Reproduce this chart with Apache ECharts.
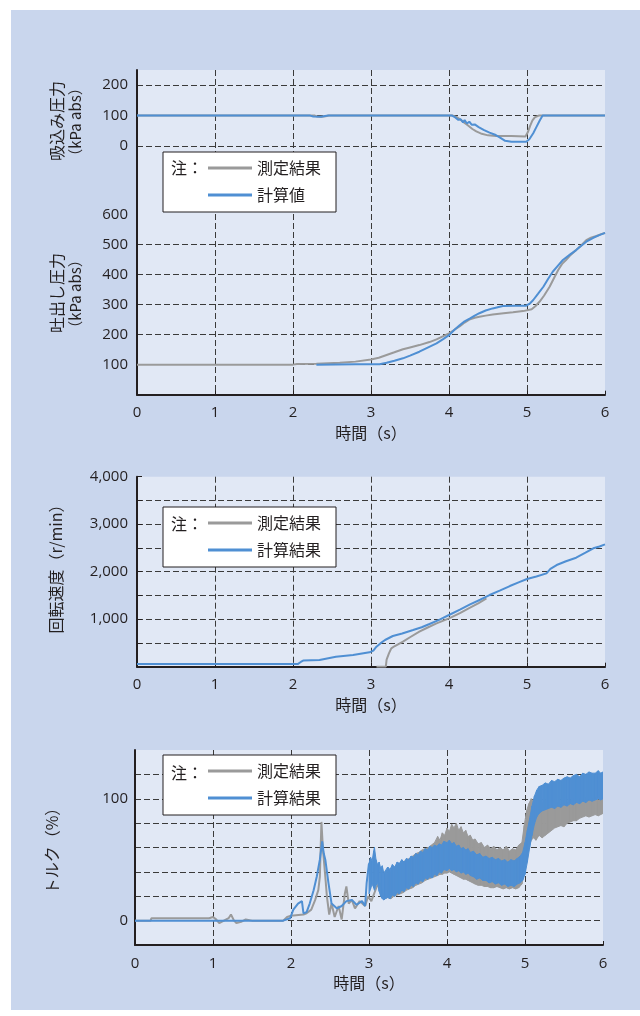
<!DOCTYPE html>
<html>
<head>
<meta charset="utf-8">
<script src="https://cdn.jsdelivr.net/npm/echarts@6/dist/echarts.min.js"></script>
<style>
  html, body { margin: 0; padding: 0; background: #ffffff; }
  #panel { position: absolute; left: 11px; top: 10px; width: 629px; height: 1000px; background: #c9d6ed; }
  #chart { position: absolute; left: 0; top: 0; width: 640px; height: 1016px; }
</style>
</head>
<body>
<div id="panel"></div>
<div id="chart"></div>
<script>
// ---- data: [time (s), value] ----
const suctionMeasured = [[0,100],[2.28,100],[2.31,97],[2.36,96],[2.42,98],[2.46,100],[4.05,100],[4.1,95],[4.15,86],[4.2,76],[4.24,68],[4.3,56],[4.35,48],[4.42,40],[4.5,35],[4.6,33],[4.8,33],[4.98,31],[5.01,45],[5.04,66],[5.07,84],[5.1,94],[5.15,100],[6,100]];
const suctionCalc = [[0,100],[2.22,100],[2.26,97],[2.36,96],[2.41,99],[2.45,100],[4.04,100],[4.08,94],[4.12,86],[4.15,88],[4.18,78],[4.2,85],[4.23,74],[4.26,80],[4.29,70],[4.33,71],[4.38,62],[4.45,52],[4.52,44],[4.6,36],[4.66,27],[4.72,17],[4.8,14],[4.99,14],[5.03,22],[5.08,42],[5.12,62],[5.16,82],[5.2,100],[6,100]];

const dischargeMeasured = [[0,100],[2.0,100],[2.05,102],[2.3,103],[2.6,106],[2.8,110],[3.0,117],[3.1,123],[3.2,132],[3.3,141],[3.41,151],[3.5,157],[3.62,165],[3.75,175],[3.84,184],[3.92,194],[4.0,204],[4.07,216],[4.14,228],[4.2,240],[4.27,251],[4.33,256],[4.39,259],[4.47,263],[4.56,267],[4.7,271],[4.82,274],[4.95,278],[5.06,284],[5.11,295],[5.16,309],[5.22,330],[5.29,359],[5.35,390],[5.4,415],[5.45,435],[5.5,448],[5.56,465],[5.63,481],[5.7,498],[5.76,514],[5.82,522],[5.89,528],[5.95,534],[6.0,538]];
const dischargeCalc = [[2.3,100],[2.8,101],[3.11,101],[3.2,106],[3.3,113],[3.41,121],[3.5,130],[3.62,143],[3.72,156],[3.84,171],[3.92,184],[4.0,198],[4.07,216],[4.14,232],[4.2,244],[4.27,254],[4.33,263],[4.39,271],[4.47,280],[4.56,287],[4.69,295],[4.85,296],[4.99,296],[5.04,304],[5.08,315],[5.14,335],[5.21,359],[5.27,385],[5.33,409],[5.4,430],[5.46,448],[5.55,466],[5.63,481],[5.7,496],[5.76,509],[5.85,522],[5.92,530],[6.0,538]];

const speedMeasured = [[3.07,0],[3.19,0],[3.2,150],[3.23,280],[3.26,386],[3.3,430],[3.41,527],[3.5,620],[3.62,737],[3.72,820],[3.84,913],[4.0,1018],[4.14,1130],[4.27,1242],[4.38,1340],[4.48,1439]];
const speedCalc = [[0,55],[2.06,55],[2.1,100],[2.13,130],[2.34,140],[2.55,211],[2.77,246],[2.98,302],[3.03,340],[3.07,421],[3.12,490],[3.18,562],[3.28,646],[3.4,700],[3.54,772],[3.65,830],[3.75,899],[3.88,990],[4.0,1088],[4.14,1200],[4.27,1313],[4.4,1410],[4.52,1509],[4.65,1600],[4.78,1698],[4.9,1780],[5.0,1846],[5.12,1900],[5.25,1965],[5.3,2060],[5.38,2140],[5.5,2220],[5.63,2295],[5.75,2400],[5.85,2492],[5.93,2530],[6.0,2576]];

// torque: single trace, then an oscillating band given as [time, low, high]
const torqueMeasuredTrace = [[0,0],[0.2,0],[0.21,2],[0.95,2],[1.0,3],[1.04,1],[1.08,-2],[1.14,0],[1.2,2],[1.23,5],[1.27,0],[1.3,-2],[1.36,-1],[1.42,1],[1.5,0],[1.9,0],[1.95,3],[2.0,4],[2.16,5],[2.2,6],[2.26,9],[2.31,17],[2.35,25],[2.37,36],[2.39,81],[2.41,58],[2.44,36],[2.46,20],[2.49,5],[2.52,14],[2.56,3],[2.61,12],[2.65,1],[2.69,22],[2.71,28],[2.74,14],[2.78,17],[2.82,10],[2.88,16],[2.95,12],[2.99,20],[3.03,16],[3.1,28],[3.14,31],[3.18,20],[3.2,18]];
const torqueMeasuredBand = [[3.20,18,32],[3.24,19,38],[3.28,18,40],[3.32,20,43],[3.36,21,45],[3.40,22,46],[3.44,23,48],[3.48,25,50],[3.52,26,51],[3.56,27,53],[3.60,29,55],[3.64,30,56],[3.68,31,58],[3.72,33,59],[3.76,34,60],[3.80,35,62],[3.84,36,64],[3.88,37,69],[3.91,38,66],[3.94,38,72],[3.97,39,70],[4.00,39,76],[4.03,40,73],[4.06,39,79],[4.09,38,76],[4.12,37,80],[4.15,36,74],[4.18,35,77],[4.21,34,72],[4.24,34,74],[4.27,33,69],[4.30,32,70],[4.33,31,66],[4.36,30,67],[4.40,29,63],[4.44,29,64],[4.48,28,60],[4.52,28,62],[4.56,27,59],[4.60,27,61],[4.64,28,58],[4.68,27,60],[4.72,26,58],[4.76,27,61],[4.80,26,57],[4.84,27,59],[4.88,26,58],[4.92,27,62],[4.96,30,64],[4.99,40,78],[5.02,50,90],[5.05,60,96],[5.08,66,100],[5.11,68,98],[5.14,66,101],[5.18,70,97],[5.22,68,96],[5.26,70,99],[5.30,72,95],[5.34,74,98],[5.38,76,94],[5.42,77,97],[5.46,78,95],[5.50,77,99],[5.54,80,97],[5.58,81,98],[5.62,82,101],[5.66,82,98],[5.70,84,100],[5.74,85,99],[5.78,86,101],[5.82,85,99],[5.86,86,100],[5.90,87,101],[5.94,86,99],[5.97,87,100],[6.00,88,100]];
const torqueCalcTrace = [[0,0],[1.9,0],[1.99,2],[2.03,9],[2.09,14],[2.14,16],[2.16,6],[2.2,7],[2.24,14],[2.29,25],[2.33,36],[2.37,50],[2.4,65],[2.42,55],[2.44,50],[2.48,31],[2.52,14],[2.59,10],[2.65,12],[2.71,16],[2.78,17],[2.84,13],[2.91,16],[2.95,12],[2.97,31],[3.0,47]];
const torqueCalcBand = [[3.00,22,47],[3.02,26,52],[3.04,30,49],[3.06,27,57],[3.07,25,60],[3.09,29,50],[3.11,31,46],[3.13,24,48],[3.15,20,43],[3.17,18,45],[3.19,17,39],[3.21,18,41],[3.24,19,44],[3.27,18,42],[3.30,21,46],[3.33,20,44],[3.36,23,48],[3.39,22,47],[3.42,25,50],[3.45,24,48],[3.48,27,51],[3.51,26,50],[3.54,29,53],[3.57,28,52],[3.60,31,55],[3.63,30,54],[3.66,33,57],[3.69,32,56],[3.72,35,59],[3.75,34,58],[3.78,36,61],[3.81,35,60],[3.84,38,62],[3.87,37,61],[3.90,40,63],[3.93,39,62],[3.96,42,65],[4.00,41,64],[4.03,43,66],[4.06,41,63],[4.09,42,64],[4.12,40,61],[4.15,41,62],[4.18,39,59],[4.21,40,60],[4.24,38,58],[4.27,39,59],[4.30,37,56],[4.34,36,57],[4.38,34,54],[4.42,35,55],[4.46,33,52],[4.50,33,53],[4.54,31,51],[4.58,32,52],[4.62,30,50],[4.66,31,51],[4.70,29,49],[4.74,30,50],[4.78,28,48],[4.82,29,50],[4.86,28,49],[4.90,30,51],[4.94,31,53],[4.97,33,56],[5.00,38,64],[5.03,48,74],[5.06,60,84],[5.09,70,94],[5.12,79,102],[5.15,85,107],[5.18,88,110],[5.22,90,111],[5.26,91,113],[5.30,92,112],[5.34,93,115],[5.38,92,114],[5.42,94,116],[5.46,93,115],[5.50,95,117],[5.54,94,118],[5.58,96,117],[5.62,95,119],[5.66,97,120],[5.70,96,118],[5.74,98,121],[5.78,97,120],[5.82,99,122],[5.86,98,121],[5.90,99,121],[5.94,100,123],[5.97,99,121],[6.00,100,122]];

// ---- labels ----
const NAME_MEASURED = '測定結果';
const NAME_CALC_PRESSURE = '計算値';
const NAME_CALC = '計算結果';
const TIME_LABEL = '時間（s）';

// ---- styles ----
const GRAY = '#9a9a9a';
const BLUE = '#4f8fd3';
const INK = '#231f20';
const FONT = "'Open Sans','Noto Sans CJK JP',sans-serif";
const JP_FONT = "'Noto Sans CJK JP','Open Sans',sans-serif";
const PLOT_BG = '#e1e8f5';
const dash = { color: '#3a3a3a', width: 1, type: [6, 3] };
const axisInk = { color: INK, width: 2 };

function timeAxis(gridIndex, withLabels, withSplit) {
  return {
    type: 'value', gridIndex, min: 0, max: 6, interval: 1,
    axisLine: { show: withLabels, onZero: false, lineStyle: axisInk },
    axisTick: { show: withLabels, inside: true, length: 4, lineStyle: { color: INK, width: 1 } },
    axisLabel: { show: withLabels, color: INK, fontSize: 15, fontFamily: FONT, margin: 11 },
    splitLine: { show: withSplit, showMinLine: false, showMaxLine: false, lineStyle: dash },
    name: withLabels ? TIME_LABEL : '', nameLocation: 'middle', nameGap: 30,
    nameTextStyle: { color: INK, fontSize: 16, fontFamily: JP_FONT }
  };
}

function valueAxis(gridIndex, min, max, interval, labelFn, opts) {
  opts = opts || {};
  return {
    type: 'value', gridIndex, min, max, interval,
    axisLine: { show: opts.line !== false, onZero: false, lineStyle: axisInk },
    axisTick: { show: !!opts.tick, inside: true, length: 5, lineStyle: { color: INK, width: 1 } },
    axisLabel: { show: true, color: INK, fontSize: 15, fontFamily: FONT, margin: opts.margin || 9, formatter: labelFn },
    splitLine: { show: true, showMinLine: !!opts.minLine, showMaxLine: false, lineStyle: dash }
  };
}

function lineSeries(name, data, color, axisIndex, z) {
  return {
    type: 'line', name, data, xAxisIndex: axisIndex, yAxisIndex: axisIndex,
    showSymbol: false, symbol: 'none', animation: false, z,
    lineStyle: { color, width: 2 }, itemStyle: { color }
  };
}

function bandSeries(name, rows, color, axisIndex, z) {
  return {
    type: 'custom', name, data: rows, xAxisIndex: axisIndex, yAxisIndex: axisIndex,
    encode: { x: 0, y: [1, 2] }, clip: true, animation: false, z,
    itemStyle: { color },
    renderItem(params, api) {
      const i = params.dataIndex;
      if (i >= rows.length - 1) return null;
      const a = rows[i], b = rows[i + 1];
      const pts = [api.coord([a[0], a[1]]), api.coord([b[0], b[1]]), api.coord([b[0], b[2]]), api.coord([a[0], a[2]])];
      return { type: 'polygon', shape: { points: pts }, style: { fill: color, stroke: color, lineWidth: 1 } };
    }
  };
}

function legendBox(top, names) {
  return {
    data: names, orient: 'vertical', left: 163, top,
    icon: 'rect', itemWidth: 44, itemHeight: 3, itemGap: 11,
    padding: [8, 15, 9, 45],
    backgroundColor: '#ffffff', borderColor: INK, borderWidth: 1,
    textStyle: { color: INK, fontSize: 16, fontFamily: JP_FONT },
    selectedMode: true
  };
}

function vText(text, x, y, size) {
  return {
    type: 'text', x, y, rotation: Math.PI / 2, z: 100,
    style: { text, fill: INK, font: size + 'px ' + JP_FONT, align: 'center', verticalAlign: 'middle' }
  };
}
function hText(text, x, y) {
  return {
    type: 'text', x, y, z: 100,
    style: { text, fill: INK, font: '16px ' + JP_FONT, align: 'left', verticalAlign: 'middle' }
  };
}

const grids = [
  { left: 137, top: 70, width: 468, height: 324.7 },   // shared backdrop of both pressure panels
  { left: 137, top: 70, width: 468, height: 76 },      // suction pressure
  { left: 137, top: 214.3, width: 468, height: 180.4 },// discharge pressure
  { left: 137, top: 476.7, width: 468, height: 190 },  // rotation speed
  { left: 135, top: 750, width: 468, height: 195 }     // torque
].map((g, i) => Object.assign({
  show: i === 0 || i >= 3, backgroundColor: PLOT_BG, borderWidth: 0, containLabel: false, outerBoundsMode: 'none'
}, g));

const option = {
  animation: false,
  backgroundColor: 'transparent',
  textStyle: { fontFamily: FONT, color: INK },
  grid: grids,
  xAxis: [
    timeAxis(0, false, true),
    Object.assign(timeAxis(1, false, false), { show: false }),
    timeAxis(2, true, false),
    timeAxis(3, true, true),
    timeAxis(4, true, true)
  ],
  yAxis: [
    { type: 'value', gridIndex: 0, min: 0, max: 1, axisLine: { show: true, lineStyle: axisInk }, axisTick: { show: false }, axisLabel: { show: false }, splitLine: { show: false } },
    valueAxis(1, 0, 250, 100, v => (v % 100 === 0 ? String(v) : ''), { line: false, minLine: true }),
    valueAxis(2, 0, 600, 100, v => (v > 0 && v % 100 === 0 ? String(v) : ''), { line: false }),
    valueAxis(3, 0, 4000, 500, v => (v > 0 && v % 1000 === 0 ? v.toLocaleString('en-US') : ''), { tick: true }),
    valueAxis(4, -20, 140, 20, v => (v === 0 || v === 100 ? String(v) : ''), { margin: 7 })
  ],
  legend: [
    legendBox(152, [NAME_MEASURED, NAME_CALC_PRESSURE]),
    legendBox(507, [NAME_MEASURED, NAME_CALC]),
    legendBox(755, [NAME_MEASURED, NAME_CALC])
  ],
  graphic: [
    vText('吸込み圧力', 57, 121, 16),
    vText('（kPa abs）', 75, 122, 15),
    vText('吐出し圧力', 57, 293, 16),
    vText('（kPa abs）', 75, 294, 15),
    vText('回転速度（r/min）', 56, 565, 16),
    vText('トルク（%）', 52, 847, 16),
    hText('注：', 171, 168),
    hText('注：', 171, 524),
    hText('注：', 171, 773)
  ],
  series: [
    lineSeries(NAME_MEASURED, suctionMeasured, GRAY, 1, 2),
    lineSeries(NAME_CALC_PRESSURE, suctionCalc, BLUE, 1, 3),
    lineSeries(NAME_MEASURED, dischargeMeasured, GRAY, 2, 2),
    lineSeries(NAME_CALC_PRESSURE, dischargeCalc, BLUE, 2, 3),
    lineSeries(NAME_MEASURED, speedMeasured, GRAY, 3, 2),
    lineSeries(NAME_CALC, speedCalc, BLUE, 3, 3),
    lineSeries(NAME_MEASURED, torqueMeasuredTrace, GRAY, 4, 2),
    bandSeries(NAME_MEASURED, torqueMeasuredBand, GRAY, 4, 2),
    lineSeries(NAME_CALC, torqueCalcTrace, BLUE, 4, 3),
    bandSeries(NAME_CALC, torqueCalcBand, BLUE, 4, 3)
  ]
};

const chart = echarts.init(document.getElementById('chart'), null, { renderer: 'canvas' });
chart.setOption(option);
</script>
</body>
</html>
